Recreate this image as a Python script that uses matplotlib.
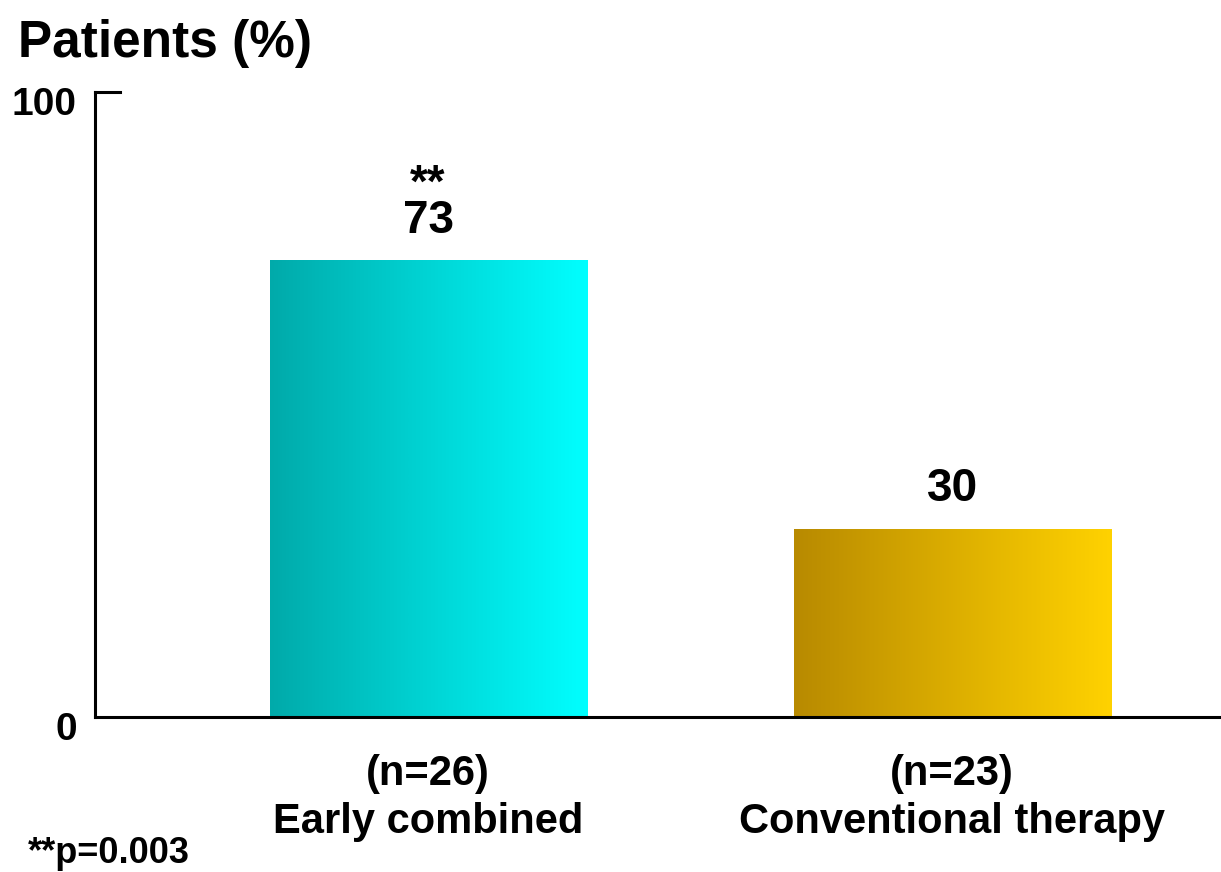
import numpy as np
import matplotlib
matplotlib.use("Agg")
import matplotlib.pyplot as plt
from matplotlib.colors import LinearSegmentedColormap
from matplotlib.transforms import ScaledTranslation, blended_transform_factory

plt.rcParams['font.family'] = ['Liberation Sans', 'DejaVu Sans']
plt.rcParams['font.weight'] = 'bold'

group_sizes = ["(n=26)", "(n=23)"]
group_names = ["Early combined", "Conventional therapy"]
values = [73, 30]
value_labels = ["73", "30"]
significance = ["**", ""]
gradients = [("#00aaaa", "#00ffff"), ("#b88a00", "#ffd200")]
y_ticks = [0, 100]
footnote = "**p=0.003"
y_title = "Patients (%)"

W, H = 1221, 872
fig = plt.figure(figsize=(W / 100, H / 100), dpi=100)
ax = fig.add_axes([95 / W, 155 / H, 1126 / W, 625 / H])

bar_width = 0.605
xmin, xmax = -0.6355, 1.513

grad = np.linspace(0, 1, 256).reshape(1, -1)
for i, (v, (c0, c1)) in enumerate(zip(values, gradients)):
    cmap = LinearSegmentedColormap.from_list(f"g{i}", [c0, c1])
    x0, x1 = i - bar_width / 2, i + bar_width / 2
    ax.imshow(grad, cmap=cmap, aspect='auto', extent=(x0, x1, 0, v),
              interpolation='bicubic', zorder=2)
    # value label, with the significance marker stacked above it
    label = value_labels[i]
    if significance[i]:
        label = significance[i] + "\n" + label
    ax.text(i, v + 2.9, label, ha='center', va='bottom', linespacing=0.75,
            fontsize=33, fontweight='bold')

ax.set_xlim(xmin, xmax)
ax.set_ylim(0, 100)

for s in ['top', 'right']:
    ax.spines[s].set_visible(False)
ax.spines['left'].set_linewidth(2.2)
ax.spines['bottom'].set_linewidth(2.2)

# category labels: sample size above group name
ax.set_xticks([])
xt = blended_transform_factory(ax.transData, fig.transFigure)
for i, (n, name) in enumerate(zip(group_sizes, group_names)):
    ax.text(i, 1 - 774 / H, n, transform=xt, ha='center', va='center',
            fontsize=30, fontweight='bold')
    ax.text(i, 1 - 822 / H, name, transform=xt, ha='center', va='center',
            fontsize=30, fontweight='bold')

ax.set_yticks(y_ticks)
ax.set_yticklabels([str(t) for t in y_ticks], fontsize=28, fontweight='bold')
ax.tick_params(axis='y', direction='out', length=0, pad=13)
shift = ScaledTranslation(0, -9 / 100, fig.dpi_scale_trans)
for lab in ax.get_yticklabels():
    lab.set_transform(lab.get_transform() + shift)

# short horizontal tick at the top of the axis
ax.plot([xmin, xmin + 25 / 524], [100, 100], color='black', lw=2.2,
        clip_on=False, solid_capstyle='projecting', zorder=5)

fig.text(18 / W, 1 - 43 / H, y_title, fontsize=37, fontweight='bold',
         ha='left', va='center')
fig.text(28 / W, 1 - 853 / H, footnote, fontsize=26, fontweight='bold',
         ha='left', va='center')

fig.savefig("out.png", dpi=100)
